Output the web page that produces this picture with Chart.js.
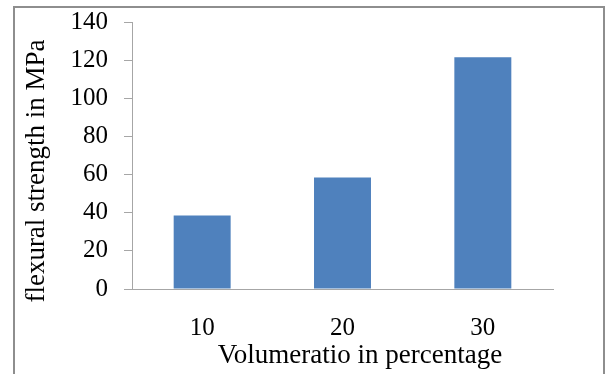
<!DOCTYPE html>
<html>
<head>
<meta charset="utf-8">
<script src="https://cdn.jsdelivr.net/npm/chart.js@4/dist/chart.umd.min.js"></script>
<style>
  html, body { margin: 0; padding: 0; background: #fff; }
  #wrap { position: relative; width: 605px; height: 374px; overflow: hidden; }
  #frame { position: absolute; left: 13px; top: 6px; width: 592px; height: 400px; border: 2px solid #8e8e8e; box-sizing: border-box; }
  canvas { position: absolute; left: 0; top: 0; }
</style>
</head>
<body>
<div id="wrap">
  <div id="frame"></div>
  <canvas id="chart" width="605" height="374"></canvas>
</div>
<script>
const categories = ["10", "20", "30"];
const strength = [38.5, 58.5, 121.5];
const yTicks = [0, 20, 40, 60, 80, 100, 120, 140];
const xTitle = "Volumeratio in percentage";
const yTitle = "flexural strength in MPa";

const serif = "'Liberation Serif', 'Times New Roman', serif";

// axis titles drawn by hand so they sit where the original has them
const axisTitles = {
  id: "axisTitles",
  afterDraw(chart) {
    const ctx = chart.ctx;
    ctx.save();
    ctx.fillStyle = "#000";
    ctx.font = "27px " + serif;
    ctx.textAlign = "center";
    ctx.textBaseline = "middle";
    ctx.fillText(xTitle, 360, 356);
    ctx.translate(37, 171);
    ctx.rotate(-Math.PI / 2);
    ctx.fillText(yTitle, 0, 0);
    ctx.restore();
  },
};

const chart = new Chart(document.getElementById("chart").getContext("2d"), {
  type: "bar",
  data: {
    labels: categories,
    datasets: [
      {
        label: yTitle,
        data: strength,
        backgroundColor: "#4f81bd",
        borderWidth: 0,
        barPercentage: 0.406,
        categoryPercentage: 1,
      },
    ],
  },
  options: {
    responsive: false,
    animation: false,
    layout: { padding: { top: 22, right: 52, left: 0, bottom: 0 } },
    plugins: { legend: { display: false }, tooltip: { enabled: false } },
    scales: {
      x: {
        grid: { display: false, drawTicks: false },
        border: { color: "#a6a6a6", width: 1 },
        ticks: { color: "#000", font: { family: serif, size: 25 }, padding: 24 },
        afterFit: (s) => {
          s.height = 85;
          s.paddingLeft = 0;
          s.paddingRight = 0;
        },
      },
      y: {
        min: 0,
        max: 140,
        afterBuildTicks: (s) => { s.ticks = yTicks.map((v) => ({ value: v })); },
        grid: { display: true, drawOnChartArea: false, drawTicks: true, tickLength: 8, color: "#a6a6a6" },
        border: { color: "#a6a6a6", width: 1 },
        ticks: { color: "#000", font: { family: serif, size: 25 }, padding: 16 },
        afterFit: (s) => {
          s.width = 132;
          s.paddingTop = 0;
          s.paddingBottom = 0;
        },
      },
    },
  },
  plugins: [axisTitles],
});
</script>
</body>
</html>
